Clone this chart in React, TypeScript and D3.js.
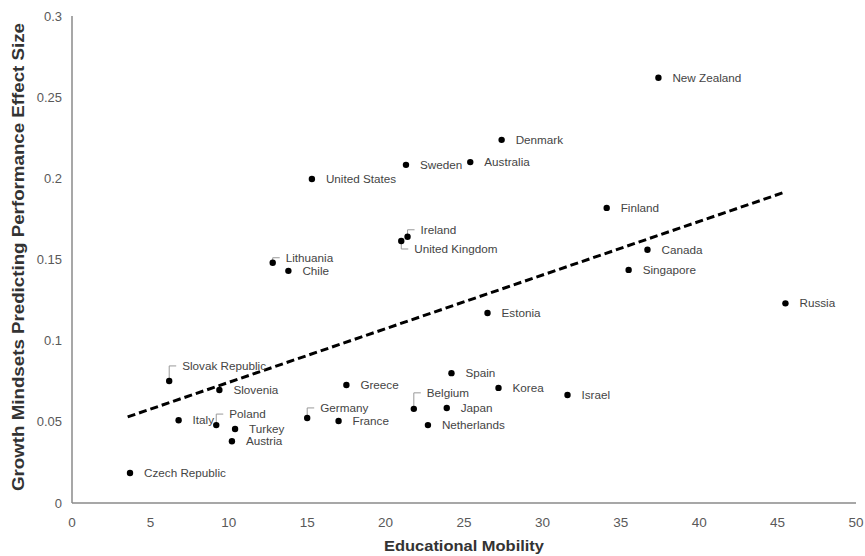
import React from "react";
import * as d3 from "d3";

const countries = [
  "New Zealand", "Denmark", "Sweden", "Australia", "United States", "Finland",
  "Ireland", "United Kingdom", "Canada", "Lithuania", "Chile", "Singapore",
  "Russia", "Estonia", "Slovak Republic", "Slovenia", "Greece", "Spain",
  "Korea", "Israel", "Germany", "France", "Belgium", "Japan", "Netherlands",
  "Italy", "Poland", "Turkey", "Austria", "Czech Republic",
];
const mobility = [
  37.4, 27.4, 21.3, 25.4, 15.3, 34.1,
  21.4, 21.0, 36.7, 12.8, 13.8, 35.5,
  45.5, 26.5, 6.2, 9.4, 17.5, 24.2,
  27.2, 31.6, 15.0, 17.0, 21.8, 23.9, 22.7,
  6.8, 9.2, 10.4, 10.2, 3.7,
];
const effectSize = [
  0.262, 0.2237, 0.2083, 0.21, 0.1996, 0.1818,
  0.164, 0.1614, 0.156, 0.148, 0.143, 0.1436,
  0.123, 0.117, 0.0752, 0.0696, 0.0727, 0.080,
  0.0709, 0.0665, 0.0524, 0.0505, 0.058, 0.0585, 0.048,
  0.051, 0.048, 0.0456, 0.038, 0.0185,
];
const xTicks = [0, 5, 10, 15, 20, 25, 30, 35, 40, 45, 50];
const yTicks = [0, 0.05, 0.1, 0.15, 0.2, 0.25, 0.3];
const yTickLabels = ["0", "0.05", "0.1", "0.15", "0.2", "0.25", "0.3"];
const trendX = [3.55, 45.5];
const trendSlope = 0.003304;
const trendIntercept = 0.0413;

// label layout: leader lines (up / down) for crowded points
const leaders: Record<string, "up" | "down"> = {
  "Slovak Republic": "up",
  "Poland": "up",
  "Germany": "up",
  "Belgium": "up",
  "Lithuania": "up",
  "Ireland": "up",
  "United Kingdom": "down",
};
const leaderLen: Record<string, number> = {
  "Slovak Republic": 15,
  "Poland": 11,
  "Germany": 10,
  "Belgium": 16,
  "Lithuania": 5,
  "Ireland": 7,
  "United Kingdom": 8,
};

export default function App() {
  const W = 865, H = 556;
  const x = d3.scaleLinear().domain([0, 50]).range([72, 856]);
  const y = d3.scaleLinear().domain([0, 0.3]).range([503, 16]);
  const font = "'Liberation Sans', Arial, sans-serif";
  const line = d3.line<number>().x((d) => x(d)).y((d) => y(trendIntercept + trendSlope * d));

  return (
    <svg width={W} height={H} style={{ position: "absolute", left: 0, top: 0, background: "#fff" }} fontFamily={font}>
      <rect width={W} height={H} fill="#fff" />
      {/* axes */}
      <line x1={x(0)} x2={x(0)} y1={y(0.3)} y2={y(0)} stroke="#8a8a8a" strokeWidth={1.5} />
      <line x1={x(0)} x2={x(50)} y1={y(0)} y2={y(0)} stroke="#8a8a8a" strokeWidth={1.5} />
      {yTicks.map((t, i) => (
        <text key={"y" + i} x={62} y={y(t)} dy="0.35em" textAnchor="end" fontSize={13} fill="#595959">
          {yTickLabels[i]}
        </text>
      ))}
      {xTicks.map((t) => (
        <text key={"x" + t} x={x(t)} y={522} dy="0.35em" textAnchor="middle" fontSize={13.5} fill="#595959">
          {t}
        </text>
      ))}
      <text x={464} y={546} dy="0.35em" textAnchor="middle" fontSize={15.5} fontWeight="bold" fill="#333"
        textLength={160} lengthAdjust="spacingAndGlyphs">
        Educational Mobility
      </text>
      <text
        transform={`translate(18, 257) rotate(-90)`}
        dy="0.35em"
        textAnchor="middle"
        fontSize={16}
        fontWeight="bold"
        fill="#333"
        textLength={468}
        lengthAdjust="spacingAndGlyphs"
      >
        Growth Mindsets Predicting Performance Effect Size
      </text>
      {/* trend line */}
      <path d={line(trendX) || ""} fill="none" stroke="#000" strokeWidth={3} strokeDasharray="8,4" />
      {/* points and labels */}
      {countries.map((c, i) => {
        const px = x(mobility[i]);
        const py = y(effectSize[i]);
        const dir = leaders[c];
        let lbl;
        if (dir) {
          const len = leaderLen[c];
          const ly = dir === "up" ? py - len : py + len;
          lbl = (
            <g>
              <path d={`M${px},${py} V${ly} H${px + 7}`} fill="none" stroke="#999" strokeWidth={1} />
              <text x={px + 13} y={ly} dy="0.35em" fontSize={11.7} fill="#444">{c}</text>
            </g>
          );
        } else {
          lbl = (
            <text x={px + 14} y={py} dy="0.35em" fontSize={11.7} fill="#444">{c}</text>
          );
        }
        return (
          <g key={c}>
            {lbl}
            <circle cx={px} cy={py} r={3.2} fill="#000" />
          </g>
        );
      })}
    </svg>
  );
}
